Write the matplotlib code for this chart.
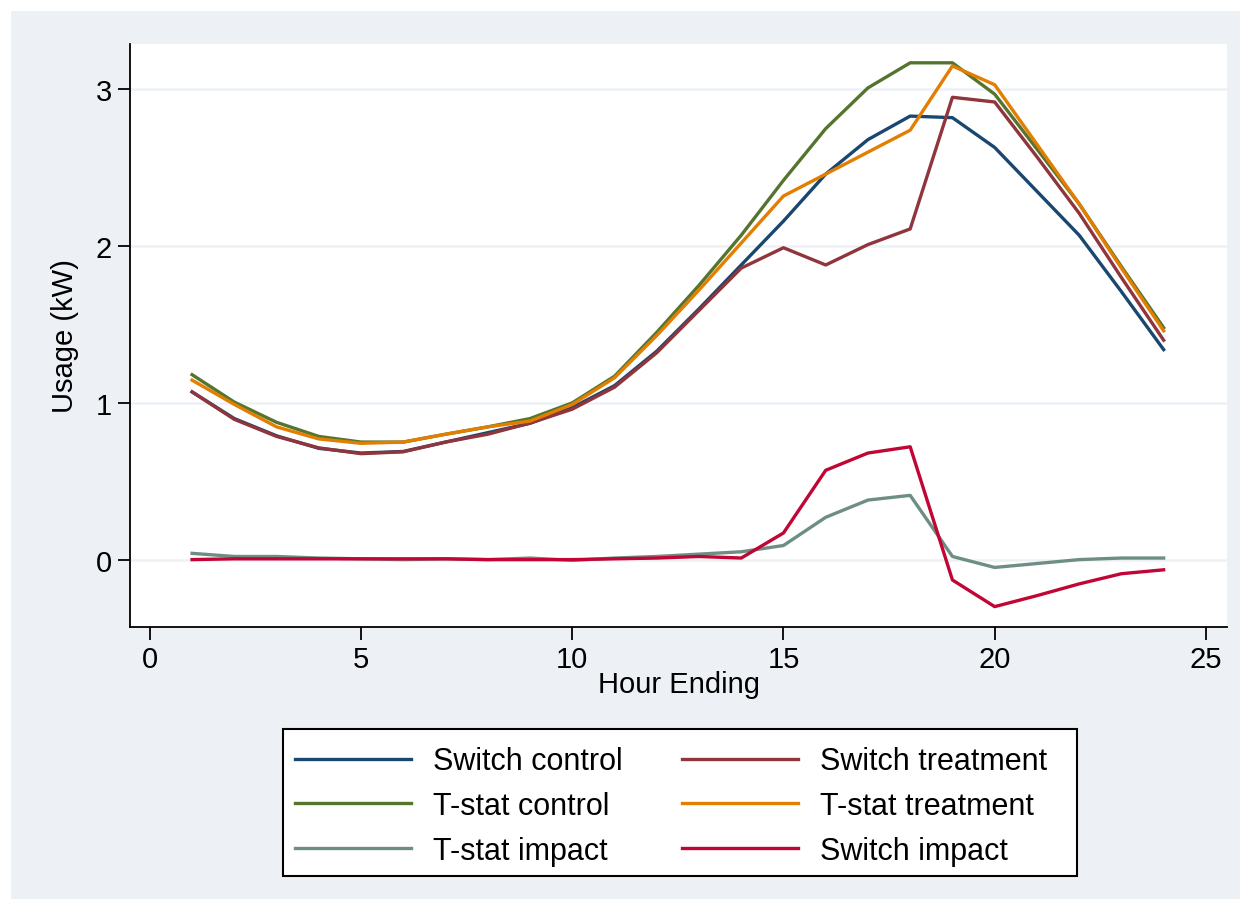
import matplotlib
matplotlib.use("Agg")
import matplotlib.pyplot as plt
from matplotlib.patches import Rectangle

plt.rcParams['font.family'] = ['Liberation Sans', 'DejaVu Sans']

# hour ending 1..24
hours = list(range(1, 25))

switch_control = [1.07, 0.90, 0.79, 0.71, 0.68, 0.69, 0.75, 0.81, 0.87, 0.97, 1.11, 1.33,
                  1.60, 1.88, 2.16, 2.46, 2.68, 2.83, 2.82, 2.63, 2.35, 2.07, 1.71, 1.34]
switch_treatment = [1.07, 0.895, 0.786, 0.713, 0.676, 0.688, 0.75, 0.80, 0.871, 0.96, 1.10, 1.32,
                    1.59, 1.86, 1.99, 1.88, 2.01, 2.11, 2.95, 2.92, 2.57, 2.21, 1.80, 1.40]
tstat_control = [1.18, 1.005, 0.876, 0.786, 0.75, 0.75, 0.80, 0.847, 0.90, 1.00, 1.17, 1.45,
                 1.75, 2.07, 2.42, 2.75, 3.01, 3.17, 3.17, 2.97, 2.62, 2.27, 1.87, 1.48]
tstat_treatment = [1.145, 0.99, 0.847, 0.77, 0.742, 0.75, 0.80, 0.847, 0.884, 0.99, 1.16, 1.43,
                   1.72, 2.02, 2.32, 2.46, 2.60, 2.74, 3.15, 3.03, 2.65, 2.27, 1.86, 1.46]
tstat_impact = [0.04, 0.02, 0.02, 0.01, 0.005, 0.0, 0.005, 0.0, 0.01, -0.005, 0.01, 0.02,
                0.035, 0.05, 0.09, 0.27, 0.38, 0.41, 0.02, -0.05, -0.025, 0.0, 0.01, 0.01]
switch_impact = [0.0, 0.005, 0.005, 0.005, 0.005, 0.005, 0.005, 0.0, 0.0, 0.0, 0.005, 0.01,
                 0.02, 0.01, 0.17, 0.57, 0.68, 0.72, -0.13, -0.30, -0.23, -0.155, -0.09, -0.065]

series = [
    ("Switch control", switch_control, "#1a476f"),
    ("Switch treatment", switch_treatment, "#90353b"),
    ("T-stat control", tstat_control, "#55752f"),
    ("T-stat treatment", tstat_treatment, "#e37e00"),
    ("T-stat impact", tstat_impact, "#6e8e84"),
    ("Switch impact", switch_impact, "#c10534"),
]

W, H = 1248, 912
fig = plt.figure(figsize=(W / 100, H / 100), dpi=100)
fig.patch.set_facecolor("white")
# stata style outer background
fig.patches.append(Rectangle((11 / W, 12 / H), (1240 - 11) / W, (900 - 12) / H,
                             transform=fig.transFigure, facecolor="#edf1f6",
                             edgecolor="none", zorder=-5))
# legend box (stata leaves extra room on the right)
fig.patches.append(Rectangle((283 / W, 1 - 877 / H), (1077 - 283) / W, (877 - 730) / H,
                             transform=fig.transFigure, facecolor="white",
                             edgecolor="black", lw=1.5, zorder=-4))

ax = fig.add_axes([130 / W, 1 - 628 / H, (1227 - 130) / W, (628 - 45) / H])
ax.set_facecolor("white")

for name, vals, col in series:
    ax.plot(hours, vals, color=col, lw=2.4, label=name)

ax.set_xlim(-0.47, 25.5)
ax.set_ylim(-0.43, 3.29)
ax.set_xticks([0, 5, 10, 15, 20, 25])
ax.set_yticks([0, 1, 2, 3])
ax.grid(axis="y", color="#edf1f6", lw=1.8)
ax.set_axisbelow(True)
for s in ["top", "right"]:
    ax.spines[s].set_visible(False)
for s in ["left", "bottom"]:
    ax.spines[s].set_linewidth(1.3)
ax.tick_params(labelsize=21, length=9, width=1.3, pad=4)
ax.set_xlabel("Hour Ending", fontsize=21, labelpad=-2)
ax.set_ylabel("Usage (kW)", fontsize=21, labelpad=12)

handles, labels = ax.get_legend_handles_labels()
order = [0, 2, 4, 1, 3, 5]
leg = fig.legend([handles[i] for i in order], [labels[i] for i in order],
                 ncol=2, loc="upper left", bbox_to_anchor=(283 / W, 1 - 735 / H),
                 fontsize=22, frameon=False, borderaxespad=0,
                 handlelength=3.8, columnspacing=1.96, handletextpad=0.7,
                 labelspacing=0.48, borderpad=0.4)

fig.savefig("out.png", dpi=100)
